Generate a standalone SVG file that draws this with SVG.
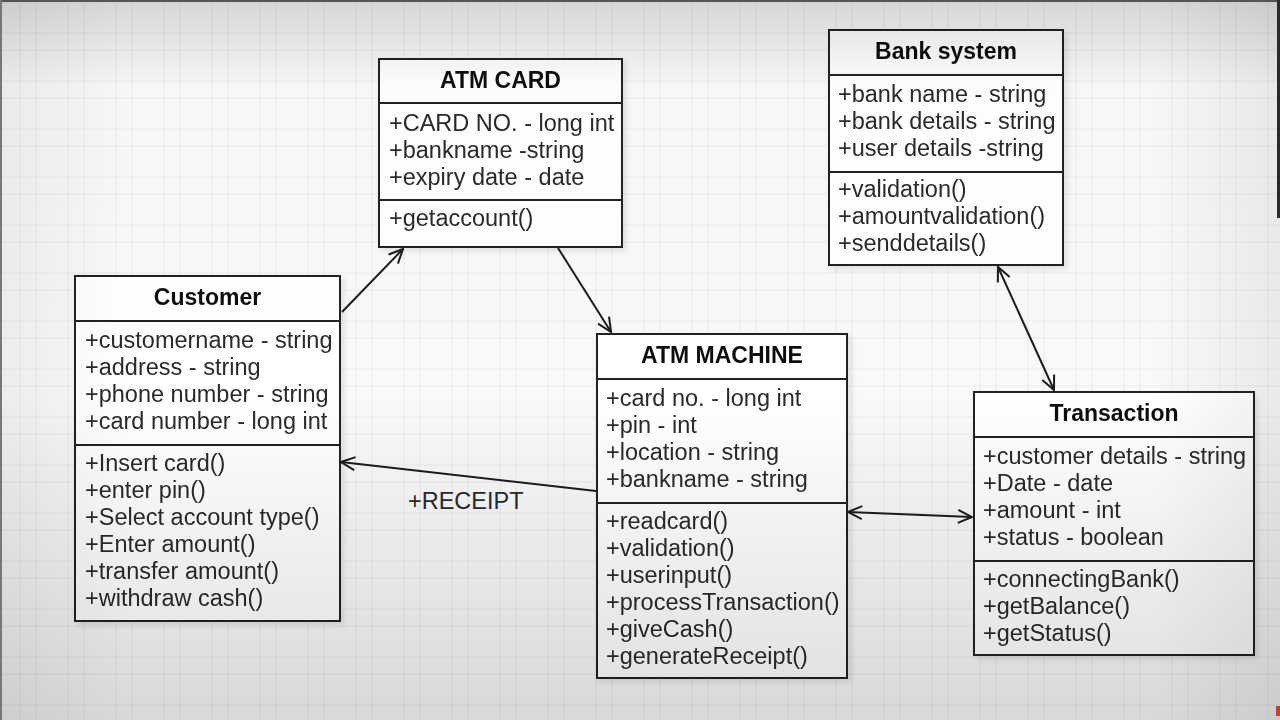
<svg xmlns="http://www.w3.org/2000/svg" width="1280" height="720" viewBox="0 0 1280 720">
  <defs>
    <pattern id="grid" patternUnits="userSpaceOnUse" x="0" y="0" width="48" height="48">
      <line x1="20" y1="0" x2="20" y2="48" stroke="#ebebeb" stroke-width="1.2"/>
      <line x1="36" y1="0" x2="36" y2="48" stroke="#ebebeb" stroke-width="1.2"/>
      <line x1="0" y1="2" x2="48" y2="2" stroke="#ebebeb" stroke-width="1.2"/>
      <line x1="0" y1="33" x2="48" y2="33" stroke="#ebebeb" stroke-width="1.2"/>
    </pattern>
    <linearGradient id="vig" x1="0" y1="0" x2="0" y2="1">
      <stop offset="0" stop-color="#000" stop-opacity="0.14"/>
      <stop offset="0.12" stop-color="#000" stop-opacity="0.01"/>
      <stop offset="0.55" stop-color="#000" stop-opacity="0.0"/>
      <stop offset="1" stop-color="#000" stop-opacity="0.13"/>
    </linearGradient>
    <linearGradient id="vigh" x1="0" y1="0" x2="1" y2="0">
      <stop offset="0" stop-color="#000" stop-opacity="0.05"/>
      <stop offset="0.1" stop-color="#000" stop-opacity="0"/>
      <stop offset="0.9" stop-color="#000" stop-opacity="0"/>
      <stop offset="1" stop-color="#000" stop-opacity="0.06"/>
    </linearGradient>
    <filter id="shadow" x="-10%" y="-10%" width="125%" height="125%">
      <feDropShadow dx="3" dy="3" stdDeviation="3" flood-color="#000" flood-opacity="0.1"/>
    </filter>
    <marker id="open" viewBox="0 0 16 16" refX="15" refY="8" markerWidth="16" markerHeight="16" markerUnits="userSpaceOnUse" orient="auto-start-reverse">
      <path d="M1,1.5 L15,8 L1,14.5" fill="none" stroke="#1c1c1c" stroke-width="2"/>
    </marker>
    <style>
      .box { fill: #ffffff; stroke: #222; stroke-width: 2; }
      .sep { stroke: #222; stroke-width: 2; }
      .title { font-family: "Liberation Sans", Arial, sans-serif; font-weight: bold; font-size: 23px; fill: #111; text-anchor: middle; }
      .t { font-family: "Liberation Sans", Arial, sans-serif; font-size: 23.5px; fill: #2a2a2a; }
      .conn { fill: none; stroke: #1c1c1c; stroke-width: 2; }
    </style>
  </defs>

  <rect x="0" y="0" width="1280" height="720" fill="#f9f9f9"/>
  <rect x="0" y="0" width="1280" height="720" fill="url(#grid)"/>

  <g id="atm-card" filter="url(#shadow)">
    <rect class="box" x="379" y="59" width="243" height="188"/>
    <line class="sep" x1="379" y1="103" x2="622" y2="103"/>
    <line class="sep" x1="379" y1="200" x2="622" y2="200"/>
    <text class="title" x="500.5" y="88">ATM CARD</text>
    <text class="t" x="389" y="131">+CARD NO. - long int</text>
    <text class="t" x="389" y="158">+bankname -string</text>
    <text class="t" x="389" y="185">+expiry date - date</text>
    <text class="t" x="389" y="226">+getaccount()</text>
  </g>

  <g id="bank-system" filter="url(#shadow)">
    <rect class="box" x="829" y="30" width="234" height="235"/>
    <line class="sep" x1="829" y1="75" x2="1063" y2="75"/>
    <line class="sep" x1="829" y1="172" x2="1063" y2="172"/>
    <text class="title" x="946" y="59">Bank system</text>
    <text class="t" x="838" y="102">+bank name - string</text>
    <text class="t" x="838" y="129">+bank details - string</text>
    <text class="t" x="838" y="156">+user details -string</text>
    <text class="t" x="838" y="197">+validation()</text>
    <text class="t" x="838" y="224">+amountvalidation()</text>
    <text class="t" x="838" y="251">+senddetails()</text>
  </g>

  <g id="customer" filter="url(#shadow)">
    <rect class="box" x="75" y="276" width="265" height="345"/>
    <line class="sep" x1="75" y1="321" x2="340" y2="321"/>
    <line class="sep" x1="75" y1="445" x2="340" y2="445"/>
    <text class="title" x="207.5" y="305">Customer</text>
    <text class="t" x="85" y="348">+customername - string</text>
    <text class="t" x="85" y="375">+address - string</text>
    <text class="t" x="85" y="402">+phone number - string</text>
    <text class="t" x="85" y="429">+card number - long int</text>
    <text class="t" x="85" y="471">+Insert card()</text>
    <text class="t" x="85" y="498">+enter pin()</text>
    <text class="t" x="85" y="525">+Select account type()</text>
    <text class="t" x="85" y="552">+Enter amount()</text>
    <text class="t" x="85" y="579">+transfer amount()</text>
    <text class="t" x="85" y="606">+withdraw cash()</text>
  </g>

  <g id="atm-machine" filter="url(#shadow)">
    <rect class="box" x="597" y="334" width="250" height="344"/>
    <line class="sep" x1="597" y1="379" x2="847" y2="379"/>
    <line class="sep" x1="597" y1="503" x2="847" y2="503"/>
    <text class="title" x="722" y="363">ATM MACHINE</text>
    <text class="t" x="606" y="406">+card no. - long int</text>
    <text class="t" x="606" y="433">+pin - int</text>
    <text class="t" x="606" y="460">+location - string</text>
    <text class="t" x="606" y="487">+bankname - string</text>
    <text class="t" x="606" y="529">+readcard()</text>
    <text class="t" x="606" y="556">+validation()</text>
    <text class="t" x="606" y="583">+userinput()</text>
    <text class="t" x="606" y="610">+processTransaction()</text>
    <text class="t" x="606" y="637">+giveCash()</text>
    <text class="t" x="606" y="664">+generateReceipt()</text>
  </g>

  <g id="transaction" filter="url(#shadow)">
    <rect class="box" x="974" y="392" width="280" height="263"/>
    <line class="sep" x1="974" y1="437" x2="1254" y2="437"/>
    <line class="sep" x1="974" y1="561" x2="1254" y2="561"/>
    <text class="title" x="1114" y="421">Transaction</text>
    <text class="t" x="983" y="464">+customer details - string</text>
    <text class="t" x="983" y="491">+Date - date</text>
    <text class="t" x="983" y="518">+amount - int</text>
    <text class="t" x="983" y="545">+status - boolean</text>
    <text class="t" x="983" y="587">+connectingBank()</text>
    <text class="t" x="983" y="614">+getBalance()</text>
    <text class="t" x="983" y="641">+getStatus()</text>
  </g>

  <g id="connectors">
    <line class="conn" x1="342" y1="312" x2="403" y2="249" marker-end="url(#open)"/>
    <line class="conn" x1="558" y1="248" x2="611" y2="332" marker-end="url(#open)"/>
    <line class="conn" x1="596" y1="491" x2="341" y2="462" marker-end="url(#open)"/>
    <text class="t" x="408" y="509">+RECEIPT</text>
    <line class="conn" x1="848" y1="512" x2="972" y2="517" marker-start="url(#open)" marker-end="url(#open)"/>
    <line class="conn" x1="998" y1="267" x2="1054" y2="390" marker-start="url(#open)" marker-end="url(#open)"/>
  </g>

  <rect x="0" y="0" width="1280" height="720" fill="url(#vig)" pointer-events="none"/>
  <rect x="0" y="0" width="1280" height="720" fill="url(#vigh)" pointer-events="none"/>
  <rect x="0" y="0" width="1280" height="2" fill="#555"/>
  <rect x="0" y="0" width="2" height="720" fill="#777"/>
  <rect x="1277" y="0" width="3" height="218" fill="#2a2a2a"/>
  <rect x="1276" y="706" width="4" height="10" fill="#d23a2a"/>
</svg>
